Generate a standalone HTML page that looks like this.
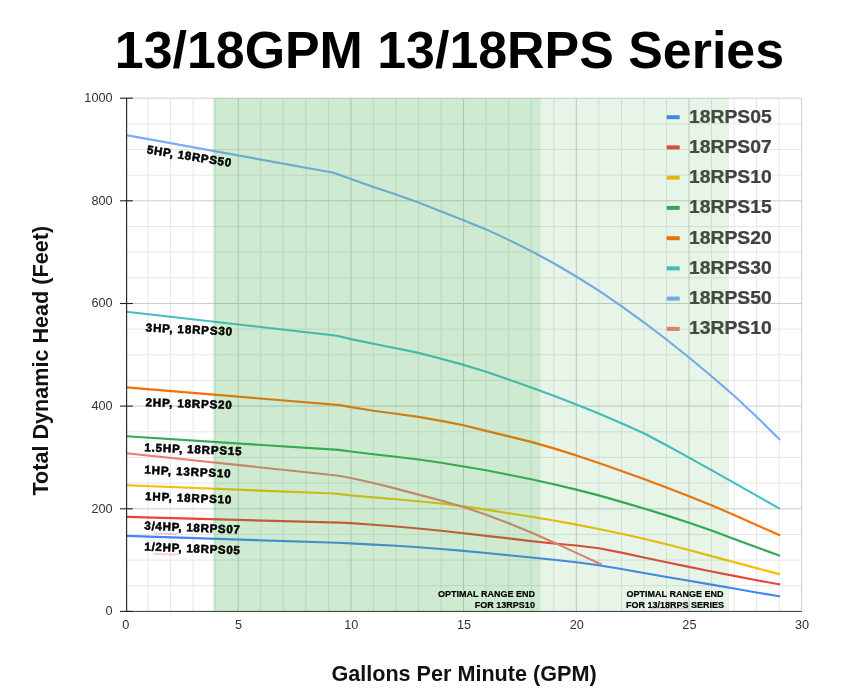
<!DOCTYPE html>
<html lang="en"><head><meta charset="utf-8"><title>13/18GPM 13/18RPS Series</title>
<style>html,body{margin:0;padding:0;background:#fff}body{width:868px;height:700px;overflow:hidden}svg{display:block}text{font-family:"Liberation Sans",sans-serif}</style></head><body>
<svg width="868" height="700" viewBox="0 0 868 700">
<rect width="868" height="700" fill="#fff"/>
<text x="449.4" y="68.2" text-anchor="middle" font-size="51.9" font-weight="bold" fill="#000">13/18GPM 13/18RPS Series</text>
<g stroke="#e6e6e6" stroke-width="1">
<line x1="148.0" y1="98.3" x2="148.0" y2="611.3"/>
<line x1="170.6" y1="98.3" x2="170.6" y2="611.3"/>
<line x1="193.1" y1="98.3" x2="193.1" y2="611.3"/>
<line x1="215.7" y1="98.3" x2="215.7" y2="611.3"/>
<line x1="260.7" y1="98.3" x2="260.7" y2="611.3"/>
<line x1="283.3" y1="98.3" x2="283.3" y2="611.3"/>
<line x1="305.8" y1="98.3" x2="305.8" y2="611.3"/>
<line x1="328.4" y1="98.3" x2="328.4" y2="611.3"/>
<line x1="373.4" y1="98.3" x2="373.4" y2="611.3"/>
<line x1="396.0" y1="98.3" x2="396.0" y2="611.3"/>
<line x1="418.5" y1="98.3" x2="418.5" y2="611.3"/>
<line x1="441.1" y1="98.3" x2="441.1" y2="611.3"/>
<line x1="486.1" y1="98.3" x2="486.1" y2="611.3"/>
<line x1="508.7" y1="98.3" x2="508.7" y2="611.3"/>
<line x1="531.2" y1="98.3" x2="531.2" y2="611.3"/>
<line x1="553.8" y1="98.3" x2="553.8" y2="611.3"/>
<line x1="598.8" y1="98.3" x2="598.8" y2="611.3"/>
<line x1="621.4" y1="98.3" x2="621.4" y2="611.3"/>
<line x1="643.9" y1="98.3" x2="643.9" y2="611.3"/>
<line x1="666.5" y1="98.3" x2="666.5" y2="611.3"/>
<line x1="711.5" y1="98.3" x2="711.5" y2="611.3"/>
<line x1="734.1" y1="98.3" x2="734.1" y2="611.3"/>
<line x1="756.6" y1="98.3" x2="756.6" y2="611.3"/>
<line x1="779.2" y1="98.3" x2="779.2" y2="611.3"/>
<line x1="126.5" y1="585.7" x2="801.8" y2="585.7"/>
<line x1="126.5" y1="560.1" x2="801.8" y2="560.1"/>
<line x1="126.5" y1="534.4" x2="801.8" y2="534.4"/>
<line x1="126.5" y1="483.1" x2="801.8" y2="483.1"/>
<line x1="126.5" y1="457.4" x2="801.8" y2="457.4"/>
<line x1="126.5" y1="431.8" x2="801.8" y2="431.8"/>
<line x1="126.5" y1="380.5" x2="801.8" y2="380.5"/>
<line x1="126.5" y1="354.8" x2="801.8" y2="354.8"/>
<line x1="126.5" y1="329.1" x2="801.8" y2="329.1"/>
<line x1="126.5" y1="277.8" x2="801.8" y2="277.8"/>
<line x1="126.5" y1="252.2" x2="801.8" y2="252.2"/>
<line x1="126.5" y1="226.5" x2="801.8" y2="226.5"/>
<line x1="126.5" y1="175.2" x2="801.8" y2="175.2"/>
<line x1="126.5" y1="149.5" x2="801.8" y2="149.5"/>
<line x1="126.5" y1="123.9" x2="801.8" y2="123.9"/>
</g>
<g stroke="#cccccc" stroke-width="1">
<line x1="238.2" y1="98.3" x2="238.2" y2="611.3"/>
<line x1="350.9" y1="98.3" x2="350.9" y2="611.3"/>
<line x1="463.6" y1="98.3" x2="463.6" y2="611.3"/>
<line x1="576.3" y1="98.3" x2="576.3" y2="611.3"/>
<line x1="689.0" y1="98.3" x2="689.0" y2="611.3"/>
<line x1="801.7" y1="98.3" x2="801.7" y2="611.3"/>
<line x1="126.5" y1="508.8" x2="801.8" y2="508.8"/>
<line x1="126.5" y1="406.1" x2="801.8" y2="406.1"/>
<line x1="126.5" y1="303.5" x2="801.8" y2="303.5"/>
<line x1="126.5" y1="200.8" x2="801.8" y2="200.8"/>
<line x1="126.5" y1="98.2" x2="801.8" y2="98.2"/>
</g>
<g fill="none" stroke-width="2.15" stroke-linejoin="round">
<path d="M126.3,535.9 L337.0,542.8 L350.9,543.4 L373.4,544.6 L396.0,545.8 L418.5,547.3 L441.1,549.0 L463.6,550.9 L486.1,553.0 L508.7,555.2 L531.2,557.5 L553.8,559.8 L576.3,562.2 L598.8,565.3 L621.4,569.0 L643.9,573.0 L666.5,577.0 L689.0,580.8 L711.5,584.6 L734.1,588.5 L756.6,592.5 L779.2,596.3 L780.1,596.5" stroke="#4285f4"/>
<path d="M126.3,516.9 L340.0,522.6 L350.9,523.1 L373.4,524.8 L396.0,526.5 L418.5,528.5 L441.1,530.7 L463.6,533.3 L486.1,535.9 L508.7,538.4 L531.2,541.1 L553.8,543.5 L576.3,545.5 L598.8,548.2 L621.4,552.6 L643.9,557.5 L666.5,562.2 L689.0,566.9 L711.5,571.5 L734.1,575.9 L756.6,580.3 L779.2,584.3 L780.1,584.5" stroke="#ea4335"/>
<path d="M126.3,485.3 L334.1,493.5 L350.9,495.4 L373.4,497.4 L396.0,499.3 L418.5,501.2 L441.1,503.5 L463.6,506.3 L486.1,509.6 L508.7,513.2 L531.2,516.8 L553.8,520.5 L576.3,524.6 L598.8,529.0 L621.4,533.7 L643.9,538.7 L666.5,544.3 L689.0,550.0 L711.5,556.1 L734.1,562.1 L756.6,568.1 L779.2,574.1 L780.1,574.3" stroke="#fbbc04"/>
<path d="M126.3,436.3 L338.7,449.9 L350.9,451.5 L373.4,454.2 L396.0,456.7 L418.5,459.5 L441.1,462.8 L463.6,466.5 L486.1,470.3 L508.7,474.7 L531.2,479.3 L553.8,484.3 L576.3,489.6 L598.8,495.4 L621.4,501.9 L643.9,508.5 L666.5,515.4 L689.0,522.7 L711.5,530.6 L734.1,538.9 L756.6,547.3 L779.2,555.4 L780.1,555.7" stroke="#34a853"/>
<path d="M126.3,387.4 L340.0,405.1 L350.9,407.1 L373.4,410.7 L396.0,413.7 L418.5,416.9 L441.1,420.9 L463.6,425.3 L486.1,430.9 L508.7,436.4 L531.2,441.9 L553.8,448.4 L576.3,455.4 L598.8,463.1 L621.4,471.0 L643.9,479.0 L666.5,487.6 L689.0,496.3 L711.5,505.2 L734.1,515.0 L756.6,525.0 L779.2,535.1 L780.1,535.5" stroke="#ff6d01"/>
<path d="M126.3,311.8 L336.9,335.7 L350.9,339.1 L373.4,343.8 L396.0,348.2 L418.5,352.9 L441.1,358.7 L463.6,364.9 L486.1,371.8 L508.7,379.5 L531.2,387.5 L553.8,395.8 L576.3,404.5 L598.8,413.6 L621.4,423.2 L643.9,433.2 L666.5,445.2 L689.0,457.6 L711.5,470.1 L734.1,482.9 L756.6,495.6 L779.2,508.4 L780.1,508.9" stroke="#46bdc6"/>
<path d="M126.3,135.1 L333.6,172.8 L350.9,179.1 L373.4,187.1 L396.0,194.6 L418.5,202.6 L441.1,211.4 L463.6,220.2 L486.1,229.4 L508.7,239.9 L531.2,251.1 L553.8,263.3 L576.3,276.5 L598.8,290.7 L621.4,306.1 L643.9,322.3 L666.5,339.5 L689.0,357.5 L711.5,376.3 L734.1,395.8 L756.6,416.8 L779.2,439.1 L780.1,440.0" stroke="#7baaf7"/>
<path d="M126.3,453.2 L337.0,475.5 L350.9,478.0 L373.4,483.0 L396.0,488.6 L418.5,494.6 L441.1,500.5 L463.6,507.0 L486.1,514.7 L508.7,523.3 L531.2,532.5 L553.8,542.4 L576.3,552.9 L598.8,563.3 L601.6,564.3" stroke="#f07b72"/>
</g>
<g font-size="17.8" font-weight="bold" fill="#404040" stroke="#404040" stroke-width="0.25">
<rect x="666.7" y="115.2" width="13" height="4" fill="#4285f4" stroke="none"/>
<text transform="translate(689,122.5) scale(1.085,1)">18RPS05</text>
<rect x="666.7" y="145.4" width="13" height="4" fill="#ea4335" stroke="none"/>
<text transform="translate(689,152.7) scale(1.085,1)">18RPS07</text>
<rect x="666.7" y="175.7" width="13" height="4" fill="#fbbc04" stroke="none"/>
<text transform="translate(689,183.0) scale(1.085,1)">18RPS10</text>
<rect x="666.7" y="205.9" width="13" height="4" fill="#34a853" stroke="none"/>
<text transform="translate(689,213.2) scale(1.085,1)">18RPS15</text>
<rect x="666.7" y="236.2" width="13" height="4" fill="#ff6d01" stroke="none"/>
<text transform="translate(689,243.5) scale(1.085,1)">18RPS20</text>
<rect x="666.7" y="266.4" width="13" height="4" fill="#46bdc6" stroke="none"/>
<text transform="translate(689,273.7) scale(1.085,1)">18RPS30</text>
<rect x="666.7" y="296.6" width="13" height="4" fill="#7baaf7" stroke="none"/>
<text transform="translate(689,303.9) scale(1.085,1)">18RPS50</text>
<rect x="666.7" y="326.9" width="13" height="4" fill="#f07b72" stroke="none"/>
<text transform="translate(689,334.2) scale(1.085,1)">13RPS10</text>
</g>
<rect x="213.2" y="98.3" width="327.4" height="513.0" fill="#3caf46" fill-opacity="0.25"/>
<rect x="540.6" y="98.3" width="188.4" height="513.0" fill="#3caf46" fill-opacity="0.12"/>
<g stroke="#222" stroke-width="1.15">
<line x1="126.6" y1="97.7" x2="126.6" y2="611.9"/>
</g>
<line x1="126" y1="611.4" x2="801.8" y2="611.4" stroke="#333" stroke-width="1"/>
<g stroke="#222" stroke-width="1.1">
<line x1="120" y1="611.4" x2="132.8" y2="611.4"/>
<line x1="120" y1="508.8" x2="132.8" y2="508.8"/>
<line x1="120" y1="406.1" x2="132.8" y2="406.1"/>
<line x1="120" y1="303.5" x2="132.8" y2="303.5"/>
<line x1="120" y1="200.8" x2="132.8" y2="200.8"/>
<line x1="120" y1="98.2" x2="132.8" y2="98.2"/>
</g>
<g font-size="12.7" fill="#333">
<text x="112.6" y="615.3" text-anchor="end">0</text>
<text x="112.6" y="512.7" text-anchor="end">200</text>
<text x="112.6" y="410.0" text-anchor="end">400</text>
<text x="112.6" y="307.4" text-anchor="end">600</text>
<text x="112.6" y="204.7" text-anchor="end">800</text>
<text x="112.6" y="102.1" text-anchor="end">1000</text>
<text x="125.9" y="629.1" text-anchor="middle">0</text>
<text x="238.6" y="629.1" text-anchor="middle">5</text>
<text x="351.3" y="629.1" text-anchor="middle">10</text>
<text x="464.0" y="629.1" text-anchor="middle">15</text>
<text x="576.7" y="629.1" text-anchor="middle">20</text>
<text x="689.4" y="629.1" text-anchor="middle">25</text>
<text x="802.1" y="629.1" text-anchor="middle">30</text>
</g>
<text x="464" y="680.9" text-anchor="middle" font-size="21.6" font-weight="bold" fill="#111">Gallons Per Minute (GPM)</text>
<text transform="translate(47.5,360.7) rotate(-90)" text-anchor="middle" font-size="21.6" font-weight="bold" fill="#111">Total Dynamic Head (Feet)</text>
<g font-size="11.5" font-weight="bold" fill="#000" stroke="#000" stroke-width="0.55">
<text transform="translate(147.1,149.2) rotate(9.17)" y="4.1" textLength="85.1" lengthAdjust="spacing">5HP, 18RPS50</text>
<text transform="translate(145.8,327.3) rotate(2.68)" y="4.1" textLength="86.4" lengthAdjust="spacing">3HP, 18RPS30</text>
<text transform="translate(145.6,402.2) rotate(1.68)" y="4.1" textLength="86.2" lengthAdjust="spacing">2HP, 18RPS20</text>
<text transform="translate(144.4,447.2) rotate(2.32)" y="4.1" textLength="97.2" lengthAdjust="spacing">1.5HP, 18RPS15</text>
<text transform="translate(144.4,469.5) rotate(2.68)" y="4.1" textLength="86.4" lengthAdjust="spacing">1HP, 13RPS10</text>
<text transform="translate(145.1,496.0) rotate(2.35)" y="4.1" textLength="86.4" lengthAdjust="spacing">1HP, 18RPS10</text>
<text transform="translate(144.5,525.5) rotate(2.37)" y="4.1" textLength="95.4" lengthAdjust="spacing">3/4HP, 18RPS07</text>
<text transform="translate(144.5,546.3) rotate(2.37)" y="4.1" textLength="95.4" lengthAdjust="spacing">1/2HP, 18RPS05</text>
</g>
<path transform="translate(153.5,533.2) rotate(2.3)" d="M0,0 l0.8,-0.9 l0.8,0.9 l0.8,0.9 l0.8,-0.9 l0.8,-0.9 l0.8,0.9 l0.8,0.9 l0.8,-0.9 l0.8,-0.9 l0.8,0.9 l0.8,0.9 l0.8,-0.9 l0.8,-0.9 l0.8,0.9 l0.8,0.9 l0.8,-0.9 l0.8,-0.9 l0.8,0.9 l0.8,0.9 l0.8,-0.9 l0.8,-0.9 l0.8,0.9 l0.8,0.9 l0.8,-0.9 l0.8,-0.9 l0.8,0.9 l0.8,0.9 l0.8,-0.9 l0.8,-0.9 l0.8,0.9" fill="none" stroke="#ee5566" stroke-opacity="0.85" stroke-width="0.6"/>
<path transform="translate(153.5,553.8) rotate(2.3)" d="M0,0 l0.8,-0.9 l0.8,0.9 l0.8,0.9 l0.8,-0.9 l0.8,-0.9 l0.8,0.9 l0.8,0.9 l0.8,-0.9 l0.8,-0.9 l0.8,0.9 l0.8,0.9 l0.8,-0.9 l0.8,-0.9 l0.8,0.9 l0.8,0.9 l0.8,-0.9 l0.8,-0.9 l0.8,0.9 l0.8,0.9 l0.8,-0.9 l0.8,-0.9 l0.8,0.9 l0.8,0.9 l0.8,-0.9 l0.8,-0.9 l0.8,0.9 l0.8,0.9 l0.8,-0.9 l0.8,-0.9 l0.8,0.9" fill="none" stroke="#ee5566" stroke-opacity="0.85" stroke-width="0.6"/>
<path transform="translate(649,608.3) rotate(0)" d="M0,0 l0.8,-0.9 l0.8,0.9 l0.8,0.9 l0.8,-0.9 l0.8,-0.9 l0.8,0.9 l0.8,0.9 l0.8,-0.9 l0.8,-0.9 l0.8,0.9 l0.8,0.9 l0.8,-0.9 l0.8,-0.9 l0.8,0.9 l0.8,0.9 l0.8,-0.9 l0.8,-0.9 l0.8,0.9 l0.8,0.9 l0.8,-0.9 l0.8,-0.9 l0.8,0.9 l0.8,0.9 l0.8,-0.9 l0.8,-0.9 l0.8,0.9 l0.8,0.9 l0.8,-0.9 l0.8,-0.9 l0.8,0.9 l0.8,0.9 l0.8,-0.9 l0.8,-0.9 l0.8,0.9 l0.8,0.9 l0.8,-0.9 l0.8,-0.9 l0.8,0.9 l0.8,0.9 l0.8,-0.9 l0.8,-0.9 l0.8,0.9 l0.8,0.9 l0.8,-0.9 l0.8,-0.9 l0.8,0.9 l0.8,0.9 l0.8,-0.9" fill="none" stroke="#ee5566" stroke-opacity="0.85" stroke-width="0.6"/>
<g font-size="9" font-weight="bold" fill="#000" stroke="#000" stroke-width="0.2">
<text x="534.9" y="596.6" text-anchor="end">OPTIMAL RANGE END</text>
<text x="534.9" y="608.1" text-anchor="end">FOR 13RPS10</text>
<text x="675" y="597.1" text-anchor="middle">OPTIMAL RANGE END</text>
<text x="675" y="607.9" text-anchor="middle">FOR 13/18RPS SERIES</text>
</g>
</svg></body></html>
